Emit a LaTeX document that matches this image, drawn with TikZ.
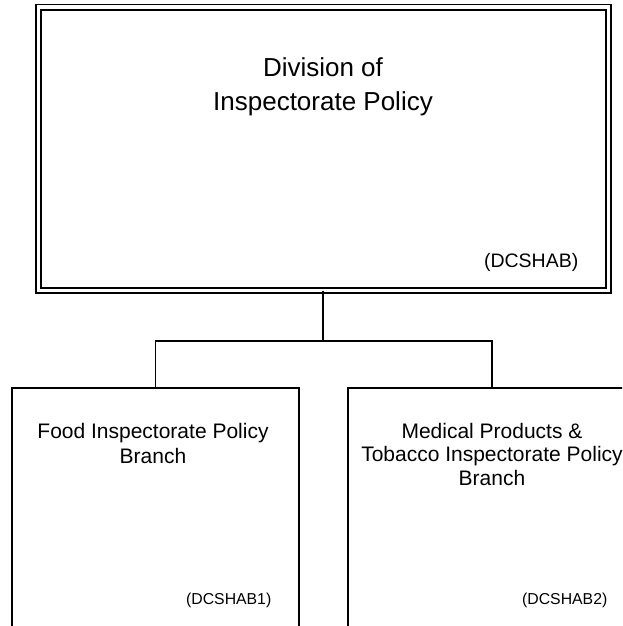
\documentclass[tikz,border=0pt]{standalone}
\usepackage{fontspec}
\setmainfont{Liberation Sans}
\begin{document}
\begin{tikzpicture}[x=1pt,y=-1pt,
  topbox/.style={draw,double,double distance=3.4pt,line width=1.8pt,rectangle,inner sep=0pt},
  childbox/.style={draw,line width=1.9pt,rectangle,inner sep=0pt,minimum width=287pt,minimum height=320pt},
  link/.style={line width=1.9pt},
  bigtxt/.style={font=\fontsize{26}{33}\selectfont,align=center,anchor=base,inner sep=0pt},
  midtxt/.style={font=\fontsize{21}{24}\selectfont,align=center,anchor=base,inner sep=0pt},
  codetxt/.style={font=\fontsize{19.5}{22}\selectfont,anchor=base east,inner sep=0pt},
  smalltxt/.style={font=\fontsize{15.8}{18}\selectfont,anchor=base east,inner sep=0pt}]
\useasboundingbox (0,0) rectangle (622,626);
\clip (0,0) rectangle (622,626);
\node[topbox,minimum width=570.2pt,minimum height=283.1pt] (top) at (323.4,148.75) {};
\node[childbox] (left) at (155.5,548) {};
\node[childbox,minimum width=288pt] (right) at (492,548) {};
\coordinate (mid) at (323.4,341);
\draw[link] (top.south) -- (mid);
\draw[link] (left.north) |- (mid) -| (right.north);
\node[bigtxt] (toptitle) at (323,110) {Division of\\Inspectorate Policy};
\node[codetxt] (topcode) at (578.5,267) {(DCSHAB)};
\node[midtxt,font=\fontsize{21}{25}\selectfont] (lefttitle) at (153,463) {Food Inspectorate Policy\\Branch};
\node[smalltxt] (leftcode) at (271.5,604) {(DCSHAB1)};
\node[midtxt,font=\fontsize{21}{23.5}\selectfont] (righttitle) at (492,485) {Medical Products \&\\Tobacco Inspectorate Policy\\Branch};
\node[smalltxt] (rightcode) at (607.5,604) {(DCSHAB2)};
\end{tikzpicture}
\end{document}
